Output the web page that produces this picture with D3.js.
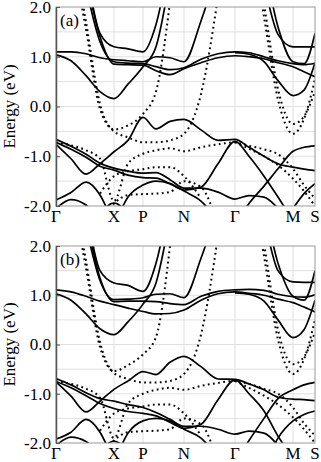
<!DOCTYPE html>
<html>
<head>
<meta charset="utf-8">
<script src="https://cdn.jsdelivr.net/npm/d3@7"></script>
<style>
body { margin: 0; background: #fff; }
</style>
</head>
<body>
<script>
// k-path distance of each sample point (Γ X P N Γ M S path)
var n = null;
var kPath = [0, 15, 30, 44, 58, 72, 87, 100, 114, 128, 145, 162, 179, 193, 208, 222, 237, 248, 259];
var symK = [0, 58, 87, 128, 179, 237, 259];
var symLabels = ["Γ", "X", "P", "N", "Γ", "M", "S"];
var yTicks = [2, 1, 0, -1, -2];

// panel (a) - solid bands (eV), null = not drawn
var aSolid = [
  [1.04, 0.92, 0.62, 0.3, 0.16, 0.45, 0.8, 1.2, 2.6, n, n, n, 1.08, 1.05, 0.9, 0.52, 0.22, 0.33, 0.88],
  [1.1, 1.1, 1.06, 0.98, 0.94, 0.92, 0.9, 1.0, 0.98, 0.9, 1.72, 2.8, n, n, n, n, n, n, n],
  [n, n, 2.4, 1.3, 0.9, 0.87, 0.86, 0.8, 0.74, 0.78, 0.95, 1.06, 1.1, 1.08, 1.0, 0.92, 0.86, 0.84, 0.87],
  [n, n, 2.6, 1.4, 0.85, 0.84, 0.83, 0.72, 0.64, 0.76, 0.88, 0.98, 1.02, 1.0, 0.96, 0.88, 0.8, 0.7, 0.6],
  [n, n, 2.8, 1.47, 1.2, 1.16, 1.1, 1.65, 3.0, n, n, n, n, n, n, n, n, n, n],
  [n, n, n, n, n, n, n, n, n, n, n, n, n, 3.2, 2.4, 1.45, 1.2, 1.2, 1.2],
  [n, n, n, n, n, n, n, n, n, n, n, n, n, 3.4, 2.8, 1.6, 0.9, 0.86, 1.47],
  [-0.76, -1.05, -1.36, -1.15, -0.91, -0.68, -0.22, -0.45, -0.3, -0.26, -0.47, -0.68, -0.66, -0.82, -1.0, -1.15, -1.22, -1.26, -1.29],
  [-0.66, -0.8, -0.96, -1.14, -1.24, -1.3, -1.34, -1.33, -1.47, -1.64, -1.64, -1.72, -1.86, -1.79, -1.82, -2.05, n, n, n],
  [-0.72, -0.86, -1.02, -1.2, -1.28, -1.38, -1.43, -1.44, -1.55, -1.68, -1.62, -1.15, -0.7, -1.0, -1.4, -1.82, -2.3, n, n],
  [n, n, n, n, n, n, n, n, n, n, n, n, -2.4, -1.95, -1.6, -1.25, -0.9, -0.82, -0.79],
  [-1.88, -1.73, -1.52, -1.78, -2.4, n, n, n, n, n, n, n, n, n, n, n, n, n, n],
  [-2.05, -1.87, -1.98, -2.3, n, n, n, n, n, n, n, n, n, n, n, n, n, n, n],
  [n, n, n, -2.15, -1.94, -2.15, n, n, n, n, n, n, n, n, n, n, n, n, n],
  [n, n, n, n, -2.4, -1.82, -1.58, -1.5, -1.55, -1.7, -1.9, -2.3, n, n, n, n, n, n, n],
  [n, n, n, n, n, n, n, n, n, n, n, n, n, n, n, -2.5, -2.05, -1.75, -1.55]
];
// panel (a) - dotted bands
var aDotted = [
  [n, 3.2, 1.55, -0.05, -0.46, -0.38, -0.15, 0.3, 2.1, n, n, n, n, 3.6, 1.8, 0.14, -0.55, -0.25, 0.55],
  [n, 3.4, 1.7, 0.05, -0.5, -0.62, -0.72, -0.72, -0.68, -0.55, 0.25, 2.2, n, 3.8, 2.05, 0.35, -0.35, -0.2, 0.3],
  [-0.72, -0.78, -0.88, -1.05, -1.9, -1.15, -0.95, -0.88, -0.84, -0.9, -0.82, -0.76, -0.72, -0.79, -0.86, -0.96, -1.25, -1.58, -1.85],
  [n, n, n, -2.3, -1.95, -1.78, -1.76, -1.75, -1.72, -1.5, -1.62, -2.4, n, n, n, n, n, n, n],
  [n, n, n, -1.75, -1.4, -1.3, -1.26, -1.22, -1.22, -1.4, -1.85, n, n, n, n, n, n, n, n],
  [n, n, n, n, n, n, n, n, n, n, n, n, -0.72, -0.85, -1.0, -1.18, -1.45, -1.7, -2.0]
];

// panel (b) - solid bands
var bSolid = [
  [1.03, 0.9, 0.62, 0.32, 0.2, 0.46, 0.82, 1.25, 2.6, n, n, n, 1.05, 1.02, 0.88, 0.5, 0.14, 0.3, 0.9],
  [1.11, 1.07, 0.98, 0.88, 0.81, 0.74, 0.67, 0.62, 0.63, 0.7, 0.9, 1.03, 1.07, 1.04, 1.0, 0.92, 0.85, 0.76, 0.66],
  [n, n, 2.4, 1.3, 0.91, 0.92, 0.95, 1.02, 1.03, 0.95, 1.75, 2.8, n, n, n, n, n, n, n],
  [n, n, 2.6, 1.35, 0.87, 0.88, 0.88, 0.87, 0.83, 0.81, 0.98, 1.08, 1.11, 1.12, 1.1, 1.02, 0.97, 0.96, 1.01],
  [n, n, 2.8, 1.5, 1.25, 1.2, 1.08, 1.65, 3.0, n, n, n, n, n, n, n, n, n, n],
  [n, n, n, n, n, n, n, n, n, n, n, n, n, 3.2, 2.5, 1.5, 1.27, 1.26, 1.26],
  [n, n, n, n, n, n, n, n, n, n, n, n, n, 3.4, 2.8, 1.65, 0.98, 0.9, 1.5],
  [-0.76, -1.05, -1.37, -1.15, -0.91, -0.74, -0.55, -0.61, -0.36, -0.24, -0.45, -0.7, -0.71, -0.8, -0.92, -1.07, -1.11, -1.12, -1.14],
  [-0.69, -0.82, -0.98, -1.1, -1.15, -1.22, -1.28, -1.38, -1.52, -1.66, -1.66, -1.72, -1.82, -1.76, -1.8, -2.05, n, n, n],
  [-0.75, -0.88, -1.04, -1.2, -1.3, -1.36, -1.4, -1.45, -1.58, -1.7, -1.62, -1.12, -0.72, -1.0, -1.35, -1.86, -2.3, n, n],
  [n, n, n, n, n, n, n, n, n, n, n, n, -2.4, -1.95, -1.5, -1.1, -0.92, -0.82, -0.77],
  [-1.92, -1.78, -1.52, -1.78, -2.4, n, n, n, n, n, n, n, n, n, n, n, n, n, n],
  [-2.05, -1.88, -1.97, -2.3, n, n, n, n, n, n, n, n, n, n, n, n, n, n, n],
  [n, n, n, -2.15, -1.96, -2.15, n, n, n, n, n, n, n, n, n, n, n, n, n],
  [n, n, n, n, -2.4, -1.8, -1.55, -1.5, -1.55, -1.72, -1.9, -2.3, n, n, n, n, n, n, n],
  [n, n, n, n, n, n, n, n, n, n, n, n, n, n, -2.5, -1.9, -1.55, -1.42, -1.35]
];
// panel (b) - dotted bands
var bDotted = [
  [n, 3.2, 1.55, -0.05, -0.54, -0.42, -0.2, 0.15, 2.0, n, n, n, n, 3.6, 1.8, 0.1, -0.6, -0.3, 0.5],
  [n, 3.4, 1.7, 0.05, -0.58, -0.7, -0.77, -0.77, -0.74, -0.6, 0.2, 2.2, n, 3.8, 2.05, 0.3, -0.4, -0.25, 0.25],
  [-0.75, -0.8, -0.9, -1.08, -1.9, -1.2, -1.0, -0.92, -0.88, -0.92, -0.84, -0.78, -0.74, -0.8, -0.9, -1.0, -1.28, -1.6, -1.85],
  [n, n, n, -2.3, -1.95, -1.78, -1.76, -1.75, -1.72, -1.5, -1.62, -2.4, n, n, n, n, n, n, n],
  [n, n, n, -1.75, -1.4, -1.3, -1.26, -1.22, -1.22, -1.4, -1.85, n, n, n, n, n, n, n, n],
  [n, n, n, n, n, n, n, n, n, n, n, n, -0.74, -0.88, -1.04, -1.22, -1.48, -1.72, -2.0]
];

var width = 321, height = 462;
var left = 56, right = 315;
var serif = "'Liberation Serif', 'Times New Roman', Times, serif";

var svg = d3.select("body").append("svg")
    .attr("width", width)
    .attr("height", height);

var panels = [
  { id: "a", label: "(a)", top: 7, bottom: 206, solid: aSolid, dotted: aDotted },
  { id: "b", label: "(b)", top: 246, bottom: 443, solid: bSolid, dotted: bDotted }
];

var x = d3.scaleLinear().domain([0, 259]).range([left, right]);

panels.forEach(function(p) {
  var y = d3.scaleLinear().domain([-2, 2]).range([p.bottom, p.top]);
  var g = svg.append("g");

  g.append("clipPath").attr("id", "clip-" + p.id)
    .append("rect")
    .attr("x", left).attr("y", p.top)
    .attr("width", right - left).attr("height", p.bottom - p.top);

  // grid
  g.selectAll(".hg").data(d3.range(-1.5, 2, 0.5)).enter().append("line")
    .attr("x1", left).attr("x2", right)
    .attr("y1", function(d) { return y(d); })
    .attr("y2", function(d) { return y(d); })
    .attr("stroke", "#e0e0e0").attr("stroke-width", 1);
  g.selectAll(".vg").data(symK.slice(1, -1)).enter().append("line")
    .attr("x1", function(d) { return x(d); })
    .attr("x2", function(d) { return x(d); })
    .attr("y1", p.top).attr("y2", p.bottom)
    .attr("stroke", "#e0e0e0").attr("stroke-width", 1);

  // bands
  var line = d3.line()
    .defined(function(d) { return d[1] != null; })
    .x(function(d) { return x(d[0]); })
    .y(function(d) { return y(d[1]); })
    .curve(d3.curveMonotoneX);

  var bands = g.append("g").attr("clip-path", "url(#clip-" + p.id + ")");
  bands.selectAll(".dot").data(p.dotted).enter().append("path")
    .attr("d", function(b) { return line(b.map(function(e, i) { return [kPath[i], e]; })); })
    .attr("fill", "none").attr("stroke", "#000")
    .attr("stroke-width", 2).attr("stroke-dasharray", "1.8,3.4");
  bands.selectAll(".sol").data(p.solid).enter().append("path")
    .attr("d", function(b) { return line(b.map(function(e, i) { return [kPath[i], e]; })); })
    .attr("fill", "none").attr("stroke", "#000")
    .attr("stroke-width", 1.7);

  // frame
  g.append("rect")
    .attr("x", left).attr("y", p.top)
    .attr("width", right - left).attr("height", p.bottom - p.top)
    .attr("fill", "none").attr("stroke", "#999").attr("stroke-width", 1);

  // y axis
  var ax = g.append("g").attr("transform", "translate(" + left + ",0)")
    .call(d3.axisLeft(y).tickValues(yTicks)
      .tickFormat(function(d) { return d.toFixed(1); })
      .tickSizeInner(-4).tickSizeOuter(0).tickPadding(5));
  ax.select(".domain").attr("stroke", "#555").attr("stroke-width", 1.5);
  ax.selectAll(".tick line").attr("stroke", "#555");
  ax.selectAll("text")
    .style("font-family", serif)
    .style("font-size", "17px").attr("fill", "#000");

  // k labels
  g.selectAll(".kl").data(symK).enter().append("text")
    .attr("x", function(d) { return x(d); })
    .attr("y", p.bottom + 16)
    .attr("text-anchor", "middle")
    .style("font-family", serif).style("font-size", "17px")
    .text(function(d, i) { return symLabels[i]; });

  g.append("text")
    .attr("x", left + 4).attr("y", p.top + 19)
    .style("font-family", serif).style("font-size", "17px")
    .text(p.label);

  g.append("text")
    .attr("transform", "translate(15," + ((p.top + p.bottom) / 2) + ") rotate(-90)")
    .attr("text-anchor", "middle")
    .style("font-family", serif).style("font-size", "17px")
    .text("Energy (eV)");
});
</script>
</body>
</html>
